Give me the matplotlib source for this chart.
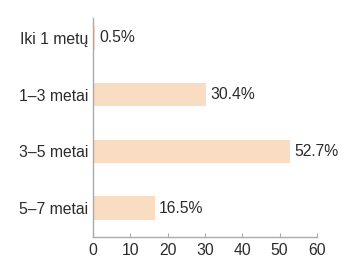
import matplotlib
matplotlib.use("Agg")
import matplotlib.pyplot as plt

# duomenys
categories = ["Iki 1 metų", "1–3 metai", "3–5 metai", "5–7 metai"]
values = [0.5, 30.4, 52.7, 16.5]
labels = ["0.5%", "30.4%", "52.7%", "16.5%"]
xticks = [0, 10, 20, 30, 40, 50, 60]

plt.rcParams['font.family'] = ['Liberation Sans', 'DejaVu Sans']

fig = plt.figure(figsize=(3.59, 2.59), dpi=100)
ax = fig.add_axes([0.259, 0.085, 0.624, 0.845])

pos = list(range(len(categories)))
bars = ax.barh(pos, values, height=0.41, color="#f9dcc2")
ax.bar_label(bars, labels=labels, padding=3, fontsize=11.3, color="#2b2b2b")

ax.set_yticks(pos)
ax.set_yticklabels(categories, fontsize=11.3, color="#2b2b2b")
ax.set_ylim(3.51, -0.35)
ax.set_xlim(0, 60)
ax.set_xticks(xticks)
ax.tick_params(axis="x", direction="in", length=3, color="#aaaaaa",
               labelsize=11.3, labelcolor="#2b2b2b", pad=4)
ax.tick_params(axis="y", length=0, pad=3.5)

for s in ["top", "right"]:
    ax.spines[s].set_visible(False)
for s in ["left", "bottom"]:
    ax.spines[s].set_color("#aaaaaa")
    ax.spines[s].set_linewidth(1)

fig.savefig("out.png", dpi=100)
